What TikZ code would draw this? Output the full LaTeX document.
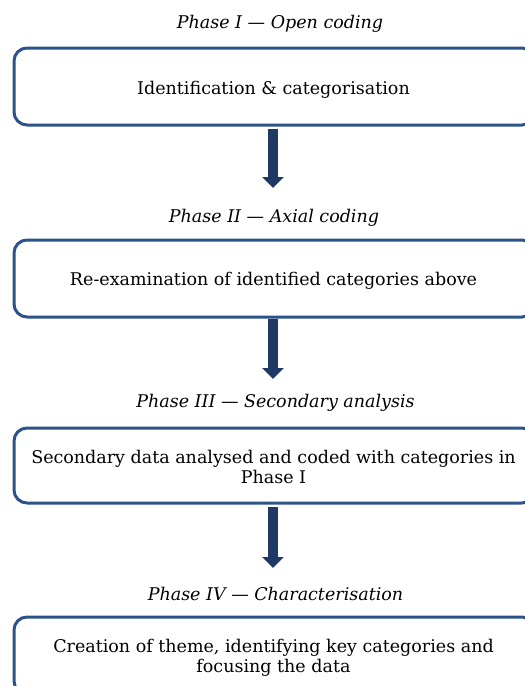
\documentclass[tikz,border=0pt]{standalone}
\usepackage{fontspec}
\setmainfont{DejaVu Serif}
\usetikzlibrary{arrows.meta}
\definecolor{boxblue}{HTML}{2B5289}
\definecolor{arrownavy}{HTML}{1F3864}
\begin{document}
\begin{tikzpicture}[x=1pt,y=-1pt,
  box/.style={draw=boxblue, line width=3pt, rounded corners=13pt, minimum width=521pt, inner sep=0pt},
  boxtext/.style={anchor=base, align=center, font=\fontsize{17.5}{20}\selectfont},
  phase/.style={anchor=base, font=\fontsize{17.5}{20}\selectfont\itshape},
  flow/.style={draw=arrownavy, line width=10.5pt, -{Triangle[length=11pt, width=21pt]}, arrownavy}
]
\useasboundingbox (0,0) rectangle (525,686);
% boxes
\node[box, minimum height=77pt] (b1) at (274.5,86.5) {};
\node[box, minimum height=77pt] (b2) at (274.5,278.5) {};
\node[box, minimum height=75pt] (b3) at (274.5,465.5) {};
\node[box, minimum height=77pt] (b4) at (274.5,655.5) {};
% phase titles
\node[phase] (p1) at (280,28) {Phase I — Open coding};
\node[phase] (p2) at (274,222) {Phase II — Axial coding};
\node[phase] (p3) at (275.5,407) {Phase III — Secondary analysis};
\node[phase] (p4) at (275.5,600) {Phase IV — Characterisation};
% box texts
\node[boxtext] (t1) at (273.5,94) {Identification \& categorisation};
\node[boxtext] (t2) at (273.5,285) {Re-examination of identified categories above};
\node[boxtext] (t3) at (273.5,483) {Secondary data analysed and coded with categories in\\Phase I};
\node[boxtext] (t4) at (273.5,672) {Creation of theme, identifying key categories and\\focusing the data};
% arrows
\coordinate (a1s) at (273,129);
\coordinate (a1e) at (273,188);
\coordinate (a2s) at (273,319);
\coordinate (a2e) at (273,379);
\coordinate (a3s) at (273,507);
\coordinate (a3e) at (273,568);
\draw[flow] (a1s) -- (a1e);
\draw[flow] (a2s) -- (a2e);
\draw[flow] (a3s) -- (a3e);
\end{tikzpicture}
\end{document}
